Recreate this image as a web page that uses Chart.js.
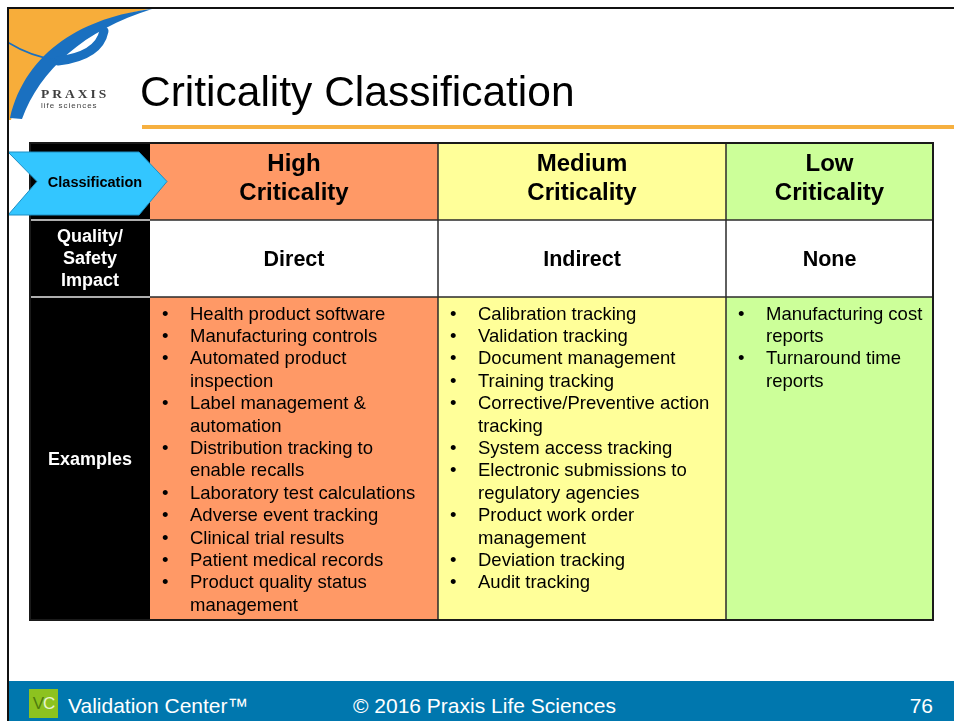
<!DOCTYPE html>
<html>
<head>
<meta charset="utf-8">
<script src="https://cdn.jsdelivr.net/npm/chart.js@4.4.1/dist/chart.umd.min.js"></script>
<style>
  html, body { margin: 0; padding: 0; background: #fff; }
  #wrap { position: relative; width: 954px; height: 721px; overflow: hidden; font-family: "Liberation Sans", Arial, sans-serif; }
  #slide { position: absolute; left: 0; top: 0; }
  .frame { position: absolute; background: #111; }
  #title { position: absolute; left: 140px; top: 71px; font-size: 42.5px; line-height: 42px; color: #000; white-space: nowrap; }
  #rule { position: absolute; left: 142px; top: 125px; width: 812px; height: 4px; background: #f6b040; }
  #footer { position: absolute; left: 9px; top: 681px; width: 945px; height: 40px; background: #0077ae; color: #fff; font-size: 21px; }
  #footer span.t { position: absolute; top: 15px; line-height: 20px; white-space: nowrap; }
  #vc { position: absolute; left: 20px; top: 8px; width: 29px; height: 29px; background: #8dc21f; font-size: 17px; line-height: 29px; text-align: center; letter-spacing: -1px; }
</style>
</head>
<body>
<div id="wrap">
  <canvas id="slide" width="954" height="721"></canvas>
  <div class="frame" style="left:7px;top:7px;width:947px;height:2px"></div>
  <div class="frame" style="left:7px;top:7px;width:2px;height:714px"></div>
  <div id="title">Criticality Classification</div>
  <div id="rule"></div>
  <div id="footer">
    <div id="vc"><span style="color:#4e7c0e">V</span><span style="color:#e8f4d0">C</span></div>
    <span class="t" style="left:59px">Validation Center™</span>
    <span class="t" style="left:344px">© 2016 Praxis Life Sciences</span>
    <span class="t" style="right:21px">76</span>
  </div>
</div>
<script>
// table content
const classes = ["High\nCriticality", "Medium\nCriticality", "Low\nCriticality"];
const impacts = ["Direct", "Indirect", "None"];
const rowLabels = ["Classification", "Quality/\nSafety\nImpact", "Examples"];
const highExamples = [
  "Health product software",
  "Manufacturing controls",
  "Automated product inspection",
  "Label management & automation",
  "Distribution tracking to enable recalls",
  "Laboratory test calculations",
  "Adverse event tracking",
  "Clinical trial results",
  "Patient medical records",
  "Product quality status management",
];
const mediumExamples = [
  "Calibration tracking",
  "Validation tracking",
  "Document management",
  "Training tracking",
  "Corrective/Preventive action tracking",
  "System access tracking",
  "Electronic submissions to regulatory agencies",
  "Product work order management",
  "Deviation tracking",
  "Audit tracking",
];
const lowExamples = [
  "Manufacturing cost reports",
  "Turnaround time reports",
];
const examples = [highExamples, mediumExamples, lowExamples];

// layout / look (table units = px at this size)
const layout = {
  cols: [120, 288, 288, 207],
  rows: [77, 77, 323],
  lineStep: 22.4,
};
const look = {
  fills: ["#ff9966", "#ffff99", "#ccff99"],
  grid: "#2b2b2b",
  arrow: "#33c6ff",
  arrowEdge: "#1d8fc4",
  font: '"Liberation Sans", Arial, sans-serif',
};

const sum = (a) => a.reduce((s, v) => s + v, 0);
const edges = (a) => a.reduce((e, v) => (e.push(e[e.length - 1] + v), e), [0]);

function wrap(c, text, maxW) {
  const words = text.split(" ");
  const lines = [];
  let cur = "";
  words.forEach((w) => {
    const test = cur ? cur + " " + w : w;
    if (cur && c.measureText(test).width > maxW) {
      lines.push(cur);
      cur = w;
    } else cur = test;
  });
  if (cur) lines.push(cur);
  return lines;
}

// praxis logo in the corner
const logoPlugin = {
  id: "logo",
  beforeDraw(chart) {
    const c = chart.ctx;
    c.save();
    // orange corner
    c.fillStyle = "#f7ad3a";
    c.beginPath();
    c.moveTo(9, 9);
    c.lineTo(150, 9);
    c.bezierCurveTo(85, 20, 30, 55, 11, 120);
    c.lineTo(9, 120);
    c.closePath();
    c.fill();
    // blue swoosh
    c.fillStyle = "#1a70c0";
    c.beginPath();
    c.moveTo(152, 9);
    c.bezierCurveTo(85, 17, 26, 50, 10, 118);
    c.lineTo(22, 119);
    c.bezierCurveTo(40, 70, 84, 30, 152, 9);
    c.closePath();
    c.fill();
    // hook of the P
    c.strokeStyle = "#1a70c0";
    c.lineCap = "round";
    c.lineWidth = 9;
    c.beginPath();
    c.moveTo(104, 31);
    c.quadraticCurveTo(99, 56, 58, 61);
    c.stroke();
    c.lineWidth = 1.5;
    c.beginPath();
    c.moveTo(9, 43);
    c.quadraticCurveTo(30, 56, 56, 60);
    c.stroke();
    // wordmark
    c.fillStyle = "#3f3f3f";
    c.font = 'bold 13.5px "Liberation Serif", serif';
    c.textBaseline = "middle";
    c.letterSpacing = "3px";
    c.fillText("PRAXIS", 41, 95);
    c.letterSpacing = "1px";
    c.font = '8px ' + look.font;
    c.fillText("life sciences", 41, 106);
    c.letterSpacing = "0px";
    c.restore();
  },
};

// table cells placed through the chart scales
const tablePlugin = {
  id: "table",
  afterDraw(chart) {
    const c = chart.ctx;
    const xs = edges(layout.cols).map((v) => chart.scales.x.getPixelForValue(v));
    const ys = edges(layout.rows).map((v) => chart.scales.y.getPixelForValue(v));
    c.save();

    // fills
    c.fillStyle = "#000";
    c.fillRect(xs[0], ys[0], xs[1] - xs[0], ys[3] - ys[0]);
    for (let k = 0; k < 3; k++) {
      for (let r = 0; r < 3; r++) {
        c.fillStyle = r === 1 ? "#fff" : look.fills[k];
        c.fillRect(xs[k + 1], ys[r], xs[k + 2] - xs[k + 1], ys[r + 1] - ys[r]);
      }
    }

    // grid
    c.strokeStyle = look.grid;
    c.lineWidth = 1.5;
    c.beginPath();
    [1, 2].forEach((r) => { c.moveTo(xs[1], ys[r]); c.lineTo(xs[4], ys[r]); });
    [2, 3].forEach((k) => { c.moveTo(xs[k], ys[0]); c.lineTo(xs[k], ys[3]); });
    c.stroke();
    c.strokeStyle = "#e8e8e8";
    c.beginPath();
    [1, 2].forEach((r) => { c.moveTo(xs[0], ys[r]); c.lineTo(xs[1], ys[r]); });
    c.stroke();
    c.strokeStyle = "#1a1a1a";
    c.lineWidth = 2;
    c.strokeRect(xs[0], ys[0], xs[4] - xs[0], ys[3] - ys[0]);

    // classification arrow
    const ay = (ys[0] + ys[1]) / 2;
    c.fillStyle = look.arrow;
    c.strokeStyle = look.arrowEdge;
    c.lineWidth = 1;
    c.beginPath();
    c.moveTo(8, ys[0] + 9);
    c.lineTo(xs[1] - 11, ys[0] + 9);
    c.lineTo(xs[1] + 17, ay);
    c.lineTo(xs[1] - 11, ys[1] - 5);
    c.lineTo(8, ys[1] - 5);
    c.lineTo(37, ay);
    c.closePath();
    c.fill();
    c.stroke();

    c.textBaseline = "middle";
    c.textAlign = "center";
    c.fillStyle = "#000";
    c.font = "bold 14.5px " + look.font;
    c.fillText(rowLabels[0], (xs[0] + xs[1]) / 2 + 5, ay + 1);

    // left labels
    c.fillStyle = "#fff";
    c.font = "bold 18px " + look.font;
    const q = rowLabels[1].split("\n");
    const qMid = (ys[1] + ys[2]) / 2 + 0.5;
    q.forEach((t, i) => c.fillText(t, (xs[0] + xs[1]) / 2, qMid + (i - (q.length - 1) / 2) * 22));
    c.fillText(rowLabels[2], (xs[0] + xs[1]) / 2, (ys[2] + ys[3]) / 2 + 1.5);

    // headers and impact
    c.fillStyle = "#000";
    for (let k = 0; k < 3; k++) {
      const cx = (xs[k + 1] + xs[k + 2]) / 2;
      c.font = "bold 24px " + look.font;
      classes[k].split("\n").forEach((t, i) => c.fillText(t, cx, ys[0] + 21 + i * 29));
      c.font = "bold 21.5px " + look.font;
      c.fillText(impacts[k], cx, (ys[1] + ys[2]) / 2 + 1.5);
    }

    // example lists
    c.textAlign = "left";
    c.font = "18.5px " + look.font;
    for (let k = 0; k < 3; k++) {
      const x0 = xs[k + 1];
      const maxW = xs[k + 2] - x0 - 48;
      let y = ys[2] + 17.5;
      examples[k].forEach((item) => {
        c.fillText("•", x0 + 12, y);
        wrap(c, item, maxW).forEach((line) => {
          c.fillText(line, x0 + 40, y);
          y += layout.lineStep;
        });
      });
    }
    c.restore();
  },
};

const ctx = document.getElementById("slide").getContext("2d");
new Chart(ctx, {
  type: "scatter",
  data: { datasets: [{ data: [] }] },
  options: {
    responsive: false,
    animation: false,
    events: [],
    layout: { padding: { left: 30, right: 21, top: 143, bottom: 101 } },
    scales: {
      x: { type: "linear", min: 0, max: sum(layout.cols), display: false },
      y: { type: "linear", min: 0, max: sum(layout.rows), reverse: true, display: false },
    },
    plugins: { legend: { display: false }, tooltip: { enabled: false } },
  },
  plugins: [logoPlugin, tablePlugin],
});
</script>
</body>
</html>
